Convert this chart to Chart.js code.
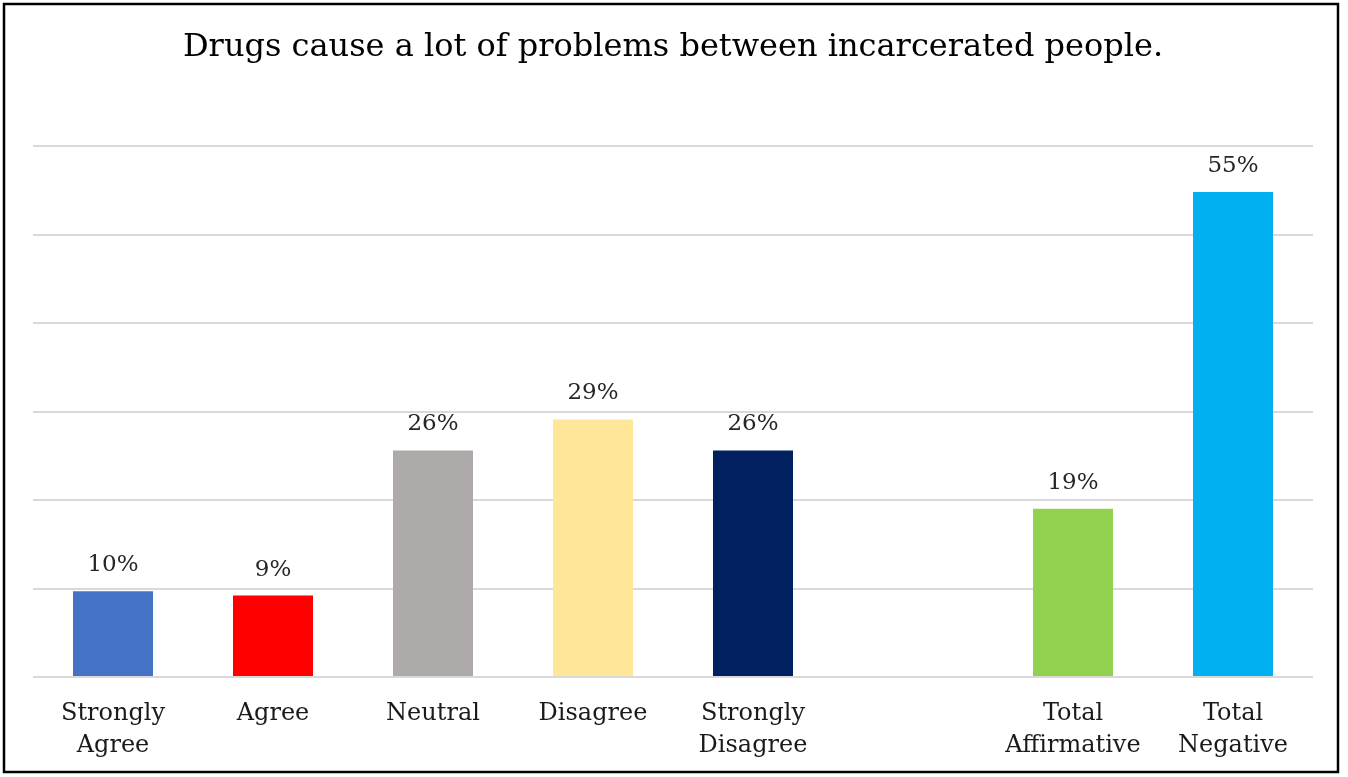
<!DOCTYPE html>
<html>
<head>
<meta charset="utf-8">
<script src="https://cdn.jsdelivr.net/npm/chart.js@4/dist/chart.umd.min.js"></script>
<style>
html,body{margin:0;padding:0;background:#fff;}
#wrap{position:relative;width:1348px;height:777px;}
</style>
</head>
<body>
<div id="wrap"><canvas id="c" width="1348" height="777"></canvas></div>
<script>
const titleText = "Drugs cause a lot of problems between incarcerated people.";
const categories = [["Strongly","Agree"],"Agree","Neutral","Disagree",["Strongly","Disagree"],"",["Total","Affirmative"],["Total","Negative"]];
const values = [9.7, 9.2, 25.6, 29.1, 25.6, null, 19.0, 54.8];
const valueLabels = ["10%","9%","26%","29%","26%","","19%","55%"];
const barColors = ["#4472C4","#FF0000","#AEAAAA","#FFE699","#002060","#FFFFFF","#92D050","#00B0F0"];
const yMin = 0, yMax = 60, yStep = 10;

const FONT = "'DejaVu Serif', 'Liberation Serif', serif";

const valueLabelPlugin = {
  id: 'valueLabels',
  afterDatasetsDraw(chart) {
    const ctx = chart.ctx;
    const meta = chart.getDatasetMeta(0);
    ctx.save();
    ctx.font = "23px " + FONT;
    ctx.fillStyle = "#262626";
    ctx.textAlign = "center";
    ctx.textBaseline = "middle";
    meta.data.forEach((bar, i) => {
      if (values[i] == null) return;
      ctx.fillText(valueLabels[i], bar.x, bar.y - 26);
    });
    ctx.restore();
  }
};
const framePlugin = {
  id: 'frame',
  afterDraw(chart) {
    const ctx = chart.ctx;
    ctx.save();
    ctx.strokeStyle = "#000";
    ctx.lineWidth = 2.5;
    ctx.strokeRect(4, 4, 1334, 768);
    ctx.restore();
  }
};

new Chart(document.getElementById('c'), {
  type: 'bar',
  data: {
    labels: categories,
    datasets: [{
      data: values,
      backgroundColor: barColors,
      barPercentage: 0.5,
      categoryPercentage: 1.0
    }]
  },
  options: {
    responsive: false,
    animation: false,
    layout: { padding: { left: 33, right: 35, top: 0, bottom: 0 } },
    plugins: {
      legend: { display: false },
      tooltip: { enabled: false },
      title: {
        display: true,
        text: titleText,
        color: "#000",
        font: { family: FONT, size: 32, weight: 'normal', lineHeight: 1.2 },
        padding: { top: 28, bottom: 79.6 }
      }
    },
    scales: {
      x: {
        grid: { display: false },
        border: { display: false },
        ticks: {
          color: "#1a1a1a",
          font: { family: FONT, size: 24, lineHeight: 1.333 },
          padding: 13,
          maxRotation: 0,
          autoSkip: false
        },
        afterFit(scale) { scale.height = 100; }
      },
      y: {
        min: yMin, max: yMax,
        ticks: { display: false, stepSize: yStep },
        grid: { color: "#D9D9D9", lineWidth: 2, drawTicks: false },
        border: { display: false },
        afterFit(scale) { scale.width = 0; }
      }
    }
  },
  plugins: [valueLabelPlugin, framePlugin]
});
</script>
</body>
</html>
